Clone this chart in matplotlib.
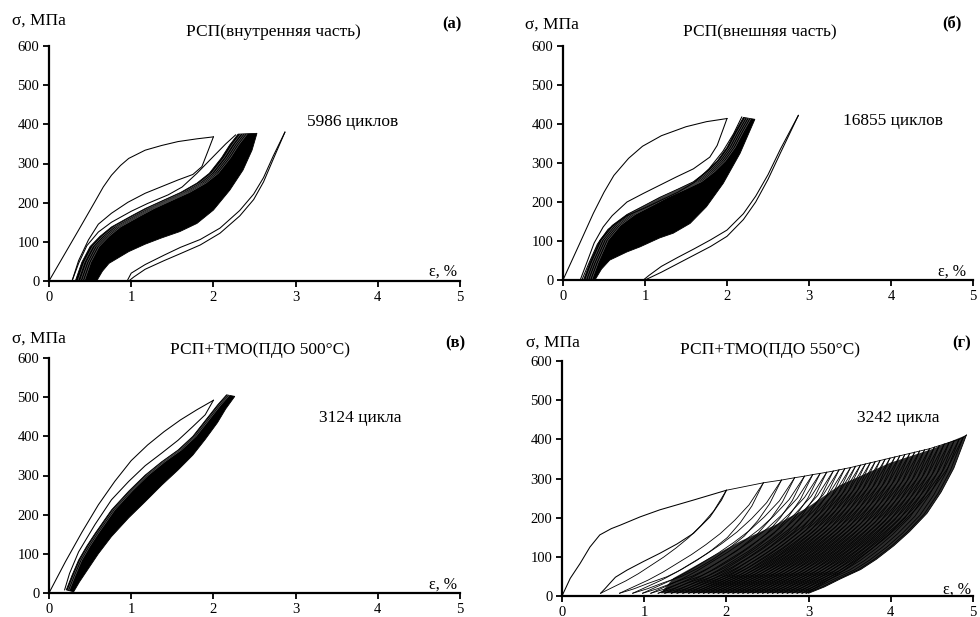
import numpy as np
import matplotlib
matplotlib.use("Agg")
import matplotlib.pyplot as plt
from matplotlib.patches import Polygon

plt.rcParams['font.family'] = ['Liberation Serif', 'DejaVu Serif']

# ---------------- common ----------------
x_ticks = [0, 1, 2, 3, 4, 5]
y_ticks = [0, 100, 200, 300, 400, 500, 600]
y_label = "σ, МПа"
x_label = "ε, %"

# ---------------- panel (а) ----------------
a_title = "РСП(внутренняя часть)"
a_note = "5986 циклов"
a_load1_x = [0, 0.18, 0.36, 0.56, 0.66, 0.76, 0.87, 0.97, 1.17, 1.37, 1.57, 1.8, 2.0]
a_load1_y = [0, 65, 130, 203, 240, 270, 295, 313, 334, 346, 356, 363, 368]
a_unl1_x = [2.0, 1.94, 1.86, 1.75, 1.57, 1.37, 1.17, 0.96, 0.76, 0.6, 0.48, 0.36, 0.28]
a_unl1_y = [368, 335, 292, 272, 258, 241, 224, 201, 173, 145, 105, 52, 0]
a_load2_x = [0.28, 0.36, 0.46, 0.6, 0.76, 1.0, 1.2, 1.45, 1.62, 1.8, 2.0, 2.15, 2.27]
a_load2_y = [0, 45, 90, 125, 150, 178, 198, 220, 240, 275, 318, 350, 373]
a_up_x = [0.32, 0.40, 0.50, 0.62, 0.76, 1.0, 1.17, 1.4, 1.6, 1.8, 1.95, 2.1, 2.2, 2.3]
a_up_y = [0, 48, 88, 114, 138, 166, 185, 207, 226, 250, 275, 315, 348, 375]
a_lo_x = [0.58, 0.65, 0.73, 0.85, 0.97, 1.17, 1.37, 1.59, 1.8, 2.0, 2.2, 2.36, 2.47, 2.53]
a_lo_y = [0, 25, 45, 60, 75, 94, 110, 126, 147, 181, 232, 283, 334, 377]
a_streak_shift = [0.03, 0.06, 0.085, 0.11]
a_rl_x = [0.95, 1.0, 1.17, 1.4, 1.6, 1.84, 2.08, 2.32, 2.49, 2.61, 2.73, 2.87]
a_rl_y = [0, 20, 42, 66, 86, 106, 135, 180, 222, 264, 320, 380]
a_ru_x = [2.87, 2.73, 2.61, 2.49, 2.32, 2.08, 1.84, 1.6, 1.4, 1.17, 1.03, 0.97]
a_ru_y = [380, 312, 253, 208, 166, 122, 92, 70, 52, 30, 10, 0]

# ---------------- panel (б) ----------------
b_title = "РСП(внешняя часть)"
b_note = "16855 циклов"
b_load1_x = [0, 0.2, 0.37, 0.5, 0.62, 0.8, 0.97, 1.2, 1.5, 1.75, 2.0]
b_load1_y = [0, 92, 171, 225, 268, 312, 343, 370, 393, 406, 414]
b_unl1_x = [2.0, 1.95, 1.88, 1.79, 1.59, 1.38, 1.18, 0.98, 0.78, 0.6, 0.49, 0.38, 0.3, 0.21]
b_unl1_y = [414, 385, 345, 315, 285, 264, 243, 222, 200, 165, 136, 95, 50, 0]
b_load2_x = [0.23, 0.32, 0.42, 0.55, 0.78, 1.0, 1.2, 1.4, 1.6, 1.78, 1.95, 2.08, 2.18]
b_load2_y = [0, 45, 92, 130, 165, 185, 205, 225, 250, 285, 330, 375, 418]
b_up_x = [0.25, 0.33, 0.45, 0.6, 0.78, 1.0, 1.18, 1.4, 1.59, 1.75, 1.88, 2.0, 2.1, 2.2]
b_up_y = [0, 45, 102, 140, 168, 192, 212, 233, 252, 278, 305, 340, 380, 417]
b_lo_x = [0.39, 0.47, 0.57, 0.78, 0.94, 1.18, 1.345, 1.55, 1.75, 1.955, 2.16, 2.34]
b_lo_y = [0, 28, 51, 72, 85, 108, 120, 145, 188, 248, 325, 412]
b_streak_shift = [0.025, 0.05, 0.075, 0.1]
b_rl_x = [0.98, 1.05, 1.2, 1.4, 1.6, 1.8, 2.0, 2.2, 2.35, 2.5, 2.65, 2.87]
b_rl_y = [0, 12, 35, 58, 80, 103, 128, 170, 215, 270, 335, 422]
b_ru_x = [2.87, 2.65, 2.5, 2.35, 2.2, 2.0, 1.8, 1.6, 1.4, 1.2, 1.05, 1.0]
b_ru_y = [422, 325, 258, 200, 155, 112, 86, 64, 42, 20, 5, 0]

# ---------------- panel (в) ----------------
c_title = "РСП+ТМО(ПДО 500°С)"
c_note = "3124 цикла"
c_load1_x = [0, 0.2, 0.4, 0.6, 0.8, 1.0, 1.2, 1.4, 1.6, 1.8, 2.0]
c_load1_y = [0, 80, 155, 225, 285, 338, 378, 412, 442, 468, 492]
c_unl1_x = [2.0, 1.9, 1.75, 1.57, 1.37, 1.17, 0.97, 0.76, 0.56, 0.36, 0.25, 0.19]
c_unl1_y = [492, 455, 425, 390, 357, 325, 285, 238, 175, 105, 50, 8]
c_up_x = [0.21, 0.28, 0.36, 0.46, 0.56, 0.76, 0.97, 1.17, 1.37, 1.57, 1.75, 1.9, 2.05, 2.16]
c_up_y = [8, 45, 84, 120, 152, 212, 260, 301, 335, 365, 400, 440, 480, 506]
c_lo_x = [0.30, 0.37, 0.44, 0.6, 0.76, 0.97, 1.17, 1.37, 1.57, 1.75, 1.9, 2.05, 2.15, 2.26]
c_lo_y = [3, 28, 50, 100, 144, 192, 233, 275, 314, 352, 392, 435, 470, 502]
c_streak_shift = [0.02, 0.04]

# ---------------- panel (г) ----------------
d_title = "РСП+ТМО(ПДО 550°С)"
d_note = "3242 цикла"
d_min_stress = 7
d_load1_x = [0, 0.1, 0.22, 0.34, 0.46, 0.6, 0.71, 0.95, 1.19, 1.6, 2.0]
d_load1_y = [0, 45, 83, 125, 156, 172, 181, 202, 220, 245, 270]
d_unl1_x = [2.0, 1.94, 1.8, 1.6, 1.4, 1.19, 0.99, 0.79, 0.65, 0.58, 0.52, 0.47]
d_unl1_y = [270, 245, 202, 160, 133, 109, 88, 66, 48, 32, 18, 7]
d_res = [0.47, 0.70, 0.86, 0.98, 1.08, 1.17, 1.25, 1.33, 1.40, 1.47, 1.54, 1.60,
         1.66, 1.72, 1.78, 1.84, 1.90, 1.96, 2.02, 2.08, 2.14, 2.20, 2.26, 2.32,
         2.38, 2.44, 2.50, 2.56, 2.62, 2.68, 2.74, 2.80, 2.86, 2.92, 2.97, 3.00]
d_peak_x = [2.45, 2.67, 2.83, 2.95, 3.05, 3.14, 3.22, 3.30, 3.37, 3.44, 3.51, 3.57,
            3.63, 3.69, 3.75, 3.81, 3.87, 3.93, 3.99, 4.05, 4.11, 4.17, 4.23, 4.29,
            4.35, 4.41, 4.47, 4.53, 4.59, 4.65, 4.71, 4.77, 4.83, 4.88, 4.92]
d_peak_y = [289, 296, 302, 306, 310, 313, 316, 319, 322, 325, 328, 331,
            334, 337, 340, 343, 346, 349, 352, 355, 358, 361, 364, 367,
            370, 373, 376, 380, 384, 388, 392, 396, 400, 405, 411]
# normalised loop shapes (fraction of strain range, fraction of stress range)
d_load_u = [0, 0.1, 0.2, 0.3, 0.4, 0.5, 0.6, 0.7, 0.8, 0.9, 1]
d_load_v = [0, 0.06, 0.12, 0.19, 0.27, 0.35, 0.44, 0.54, 0.66, 0.8, 1]
d_unl_u = [0, 0.1, 0.2, 0.33, 0.43, 0.54, 0.64, 0.75, 0.84, 0.92, 1]
d_unl_v = [0, 0.04, 0.09, 0.15, 0.215, 0.3, 0.39, 0.505, 0.64, 0.79, 1]
# densely overlapped region (many cycles) upper boundary
d_dark_x = [4.92, 4.5, 3.99, 3.38, 2.98, 2.6, 2.17, 1.8, 1.35, 1.2]
d_dark_y = [411, 375, 340, 283, 225, 182, 140, 98, 45, 7]

# ---------------- drawing ----------------
fig = plt.figure(figsize=(9.8, 6.17), dpi=100)
W, H = 980.0, 617.0
LW = 0.75


def add_axes_px(left, right, top, bottom):
    return fig.add_axes([left / W, 1 - bottom / H, (right - left) / W, (bottom - top) / H])


def style(ax):
    ax.set_xlim(0, 5)
    ax.set_ylim(0, 600)
    ax.set_xticks(x_ticks)
    ax.set_yticks(y_ticks)
    for s in ['top', 'right']:
        ax.spines[s].set_visible(False)
    for s in ['left', 'bottom']:
        ax.spines[s].set_linewidth(1.6)
        ax.spines[s].set_zorder(5)
    ax.tick_params(direction='out', length=4, width=1.3, labelsize=10.5, pad=3)
    ax.patch.set_alpha(0)


def ftext(px, py, s, **kw):
    fig.text(px / W, 1 - py / H, s, ha='center', va='center', **kw)


def band(ax, up_x, up_y, lo_x, lo_y, shifts):
    poly = Polygon(np.column_stack([up_x + lo_x[::-1], up_y + lo_y[::-1]]),
                   closed=True, facecolor='black', edgecolor='black', lw=0.6)
    ax.add_patch(poly)
    for sh in shifts:
        ln, = ax.plot(np.asarray(up_x) + sh, up_y, color='white', lw=0.3, alpha=0.55)
        ln.set_clip_path(poly)


def curve(ax, x, y, lw=LW):
    ax.plot(x, y, color='black', lw=lw, solid_joinstyle='round')


def mapped(u, v, x0, y0, x1, y1):
    return (x0 + np.asarray(u) * (x1 - x0), y0 + np.asarray(v) * (y1 - y0))


# (а)
ax = add_axes_px(49, 460, 46, 281)
style(ax)
band(ax, a_up_x, a_up_y, a_lo_x, a_lo_y, a_streak_shift)
curve(ax, a_load1_x, a_load1_y)
curve(ax, a_unl1_x, a_unl1_y)
curve(ax, a_load2_x, a_load2_y)
curve(ax, a_rl_x, a_rl_y)
curve(ax, a_ru_x, a_ru_y)
ftext(39, 21, y_label, fontsize=12.5)
ftext(273, 32, a_title, fontsize=12.5)
ftext(452, 24, "(а)", fontsize=12, fontweight='bold')
ftext(353, 122, a_note, fontsize=12.5)
ftext(443, 272, x_label, fontsize=11.5)

# (б)
ax = add_axes_px(563, 973, 46, 280)
style(ax)
band(ax, b_up_x, b_up_y, b_lo_x, b_lo_y, b_streak_shift)
curve(ax, b_load1_x, b_load1_y)
curve(ax, b_unl1_x, b_unl1_y)
curve(ax, b_load2_x, b_load2_y)
curve(ax, b_rl_x, b_rl_y)
curve(ax, b_ru_x, b_ru_y)
ftext(552, 25, y_label, fontsize=12.5)
ftext(760, 32, b_title, fontsize=12.5)
ftext(952, 24, "(б)", fontsize=12, fontweight='bold')
ftext(893, 121, b_note, fontsize=12.5)
ftext(952, 272, x_label, fontsize=11.5)

# (в)
ax = add_axes_px(49, 460, 358, 593)
style(ax)
band(ax, c_up_x, c_up_y, c_lo_x, c_lo_y, c_streak_shift)
curve(ax, c_load1_x, c_load1_y)
curve(ax, c_unl1_x, c_unl1_y)
ftext(39, 339, y_label, fontsize=12.5)
ftext(260, 350, c_title, fontsize=12.5)
ftext(455, 343, "(в)", fontsize=12, fontweight='bold')
ftext(360, 418, c_note, fontsize=12.5)
ftext(443, 585, x_label, fontsize=11.5)

# (г)
ax = add_axes_px(562, 973, 361, 596)
style(ax)
curve(ax, d_load1_x, d_load1_y)
curve(ax, d_unl1_x, d_unl1_y)
last_ux = last_uy = None
for k in range(len(d_peak_x)):
    r0, r1 = d_res[k], d_res[k + 1]
    if k == 0:
        qx, qy = d_load1_x[-1], d_load1_y[-1]
    else:
        qx, qy = d_peak_x[k - 1], d_peak_y[k - 1]
    lx, ly = mapped(d_load_u, d_load_v, r0, d_min_stress, qx, qy)
    lx = np.append(lx, d_peak_x[k])
    ly = np.append(ly, d_peak_y[k])
    ux, uy = mapped(d_unl_u, d_unl_v, r1, d_min_stress, d_peak_x[k], d_peak_y[k])
    curve(ax, lx, ly, lw=0.6)
    curve(ax, ux, uy, lw=0.6)
    last_ux, last_uy = ux, uy
dark = Polygon(np.column_stack([np.concatenate([last_ux, d_dark_x]),
                                np.concatenate([last_uy, d_dark_y])]),
               closed=True, facecolor='black', edgecolor='none', alpha=0.82, zorder=1.5)
ax.add_patch(dark)
ftext(553, 343, y_label, fontsize=12.5)
ftext(770, 350, d_title, fontsize=12.5)
ftext(962, 343, "(г)", fontsize=12, fontweight='bold')
ftext(898, 418, d_note, fontsize=12.5)
ftext(957, 590, x_label, fontsize=11.5)

fig.savefig("out.png", dpi=100)
